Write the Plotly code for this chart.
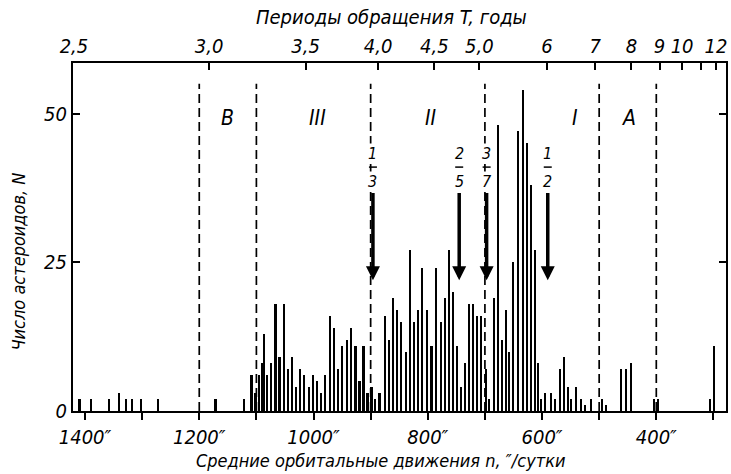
import plotly.graph_objects as go

# ---- data ----
# bin centres of mean motion n (″/day) and number of asteroids N
mean_motion = [1410, 1390, 1358, 1341, 1328, 1318, 1303, 1272, 1172,
               1122, 1109, 1102, 1096, 1091, 1087, 1082, 1075, 1067, 1060,
               1052, 1045, 1038, 1031, 1024, 1017, 1009, 1002, 995, 988,
               981, 972, 965, 958, 951, 942, 935, 927, 920, 913, 906,
               899, 893, 885, 876, 869, 862, 854, 847, 839, 831, 824,
               817, 810, 802, 794, 786, 778, 771, 764, 757, 750, 743,
               735, 728, 721, 714, 707, 699, 694, 684, 677, 670, 664,
               658, 651, 643, 634, 626, 619, 613, 607, 602, 596, 585,
               577, 569, 562, 555, 549, 541, 533, 526, 514, 496, 489,
               462, 454, 445, 404, 397, 306, 299]
counts = [2, 2, 2, 3, 2, 2, 2, 2, 2,
          2, 6, 3, 6, 8, 13, 6, 8, 18, 9,
          18, 7, 9, 4, 7, 6, 4, 6, 5, 3,
          6, 16, 14, 7, 11, 12, 14, 11, 5, 11, 3,
          4, 2, 3, 16, 12, 19, 17, 15, 10, 27, 15,
          17, 24, 17, 11, 24, 15, 19, 27, 20, 11, 4,
          8, 18, 18, 16, 16, 7, 2, 19, 48, 12, 17,
          10, 25, 47, 54, 45, 38, 27, 8, 2, 3, 3,
          2, 7, 9, 4, 2, 4, 2, 1, 2, 2, 1,
          7, 7, 8, 2, 2, 2, 11]

gap_lines = [1200, 1100, 900, 700, 500, 400]
zone_labels = ["B", "III", "II", "I", "A"]
zone_pos = [1150, 993, 795, 543, 447]

res_num = ["1", "2", "3", "1"]
res_den = ["3", "5", "7", "2"]
res_pos = [896, 745, 697, 590]

bottom_ticks = [1400, 1300, 1200, 1100, 1000, 900, 800, 700, 600, 500, 400, 300]
bottom_text = ["1400″", "", "1200″", "", "1000″", "", "800″", "", "600″", "", "400″", ""]

period_values = [2.5, 3.0, 3.5, 4.0, 4.5, 5.0, 6, 7, 8, 9, 10, 11, 12]
period_text = ["2,5", "3,0", "3,5", "4,0", "4,5", "5,0", "6", "7", "8", "9", "10", "", "12"]

# ---- helpers ----
SEC_PER_YEAR = 1296000 / 365.25   # n (″/day) = SEC_PER_YEAR / T(years)
period_pos = [SEC_PER_YEAR / t for t in period_values]

FONT = "DejaVu Sans Condensed, Liberation Sans Narrow, sans-serif"
XR = [1421, 278]
YR = [0, 58.5]

fig = go.Figure()
fig.add_trace(go.Bar(x=mean_motion, y=counts, width=2.8,
                     marker=dict(color="black", line=dict(width=0)),
                     showlegend=False, hoverinfo="skip"))
fig.add_trace(go.Scatter(x=[period_pos[0]], y=[0], xaxis="x2", mode="markers",
                         marker=dict(opacity=0), showlegend=False, hoverinfo="skip"))

for g in gap_lines:
    fig.add_shape(type="line", x0=g, x1=g, y0=0, y1=55, xref="x", yref="y",
                  line=dict(color="black", width=1.7, dash="9px,5px"))

for lab, p in zip(zone_labels, zone_pos):
    fig.add_annotation(x=p, y=49.3, text=lab, showarrow=False,
                       xanchor="center", yanchor="middle",
                       font=dict(family=FONT, size=21, color="black", style="italic"))

for num, den, p in zip(res_num, res_den, res_pos):
    fig.add_annotation(x=p, y=43.3, text=num, showarrow=False, bgcolor="white",
                       xanchor="center", yanchor="middle", borderpad=0,
                       font=dict(family=FONT, size=16, color="black", style="italic"))
    fig.add_annotation(x=p, y=38.6, text=den, showarrow=False, bgcolor="white",
                       xanchor="center", yanchor="middle", borderpad=0,
                       font=dict(family=FONT, size=16, color="black", style="italic"))
    fig.add_shape(type="line", x0=p - 7, x1=p + 7, y0=41.0, y1=41.0, xref="x", yref="y",
                  line=dict(color="black", width=1.5))
    fig.add_annotation(x=p, y=22, ax=p, ay=36.9, axref="x", ayref="y", xref="x", yref="y",
                       text="", showarrow=True, arrowhead=2, arrowsize=0.8,
                       arrowwidth=3.5, arrowcolor="black")

fig.add_annotation(text="Периоды обращения T, годы", xref="paper", yref="paper",
                   x=0.487, y=1.132, showarrow=False, xanchor="center", yanchor="middle",
                   font=dict(family=FONT, size=20, color="black", style="italic"))
fig.add_annotation(text="Средние орбитальные движения n, ″/сутки", xref="paper", yref="paper",
                   x=0.472, y=-0.143, showarrow=False, xanchor="center", yanchor="middle",
                   font=dict(family=FONT, size=18, color="black", style="italic"))
fig.add_annotation(text="Число астероидов, N", xref="paper", yref="paper",
                   x=-0.084, y=0.43, showarrow=False, textangle=-90,
                   xanchor="center", yanchor="middle",
                   font=dict(family=FONT, size=18, color="black", style="italic"))

tickfont = dict(family=FONT, size=20, color="black", style="italic")
fig.update_layout(
    width=731, height=474,
    margin=dict(l=73, r=3, t=63, b=63),
    paper_bgcolor="white", plot_bgcolor="white",
    bargap=0,
    xaxis=dict(range=XR, tickmode="array", tickvals=bottom_ticks, ticktext=bottom_text,
               ticks="outside", ticklen=7, tickwidth=1.5, tickcolor="black",
               showline=True, linewidth=2, linecolor="black",
               showgrid=False, zeroline=False, tickfont=tickfont),
    xaxis2=dict(range=XR, overlaying="x", side="top", tickmode="array",
                tickvals=period_pos, ticktext=period_text,
                ticks="inside", ticklen=7, tickwidth=1.5, tickcolor="black",
                showline=True, linewidth=2, linecolor="black",
                showgrid=False, zeroline=False, tickfont=tickfont),
    yaxis=dict(range=YR, tickmode="array", tickvals=[0, 25, 50], ticktext=["0", "25", "50"],
               ticks="inside", ticklen=7, tickwidth=1.5, tickcolor="black",
               showline=True, linewidth=2, linecolor="black", mirror="ticks",
               showgrid=False, zeroline=False, tickfont=tickfont),
)

fig.write_html("out.html")
